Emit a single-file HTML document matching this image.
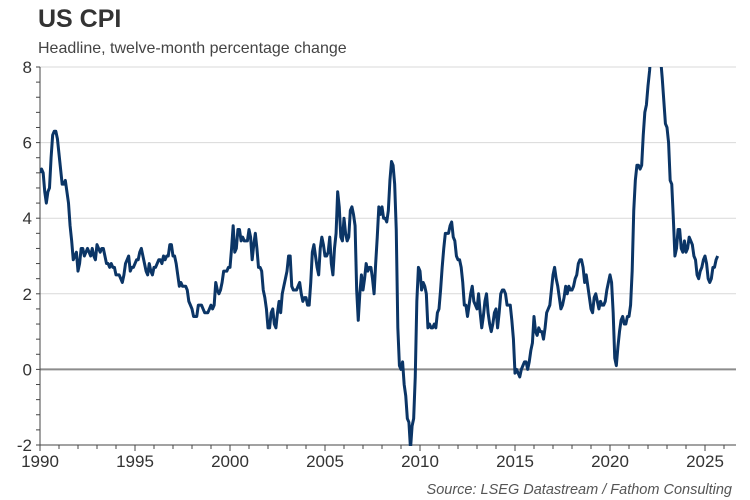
<!DOCTYPE html>
<html><head><meta charset="utf-8"><style>
body{margin:0;background:#fff;}
svg{display:block;font-family:"Liberation Sans",Arial,sans-serif;}
</style></head><body>
<svg id="chart" width="750" height="500">
<text x="38" y="27" font-size="25" font-weight="bold" fill="#333">US CPI</text>
<text x="38" y="53" font-size="16" fill="#444">Headline, twelve-month percentage change</text>
<text x="732" y="494" font-size="14.5" font-style="italic" fill="#555" text-anchor="end">Source: LSEG Datastream / Fathom Consulting</text>
<g id="grid"></g><g id="axes"></g>
<defs><clipPath id="clip"><rect x="40" y="67" width="696" height="379"/></clipPath></defs>
<g id="series" clip-path="url(#clip)"></g>
</svg>
<script>
const startYear = 1990;
const cpi1990 = [5.2,5.3,5.2,4.7,4.4,4.7,4.8,5.6,6.2,6.3,6.3,6.1];
const cpi1991 = [5.7,5.3,4.9,4.9,5.0,4.7,4.4,3.8,3.4,2.9,3.0,3.1];
const cpi1992 = [2.6,2.8,3.2,3.2,3.0,3.1,3.2,3.1,3.0,3.2,3.0,2.9];
const cpi1993 = [3.3,3.2,3.1,3.2,3.2,3.0,2.8,2.8,2.7,2.8,2.7,2.7];
const cpi1994 = [2.5,2.5,2.5,2.4,2.3,2.5,2.8,2.9,3.0,2.6,2.7,2.7];
const cpi1995 = [2.8,2.9,2.9,3.1,3.2,3.0,2.8,2.6,2.5,2.8,2.6,2.5];
const cpi1996 = [2.7,2.7,2.8,2.9,2.9,2.8,3.0,2.9,3.0,3.0,3.3,3.3];
const cpi1997 = [3.0,3.0,2.8,2.5,2.2,2.3,2.2,2.2,2.2,2.1,1.8,1.7];
const cpi1998 = [1.6,1.4,1.4,1.4,1.7,1.7,1.7,1.6,1.5,1.5,1.5,1.6];
const cpi1999 = [1.7,1.6,1.7,2.3,2.1,2.0,2.1,2.3,2.6,2.6,2.6,2.7];
const cpi2000 = [2.7,3.2,3.8,3.1,3.2,3.7,3.7,3.4,3.5,3.4,3.4,3.4];
const cpi2001 = [3.7,3.5,2.9,3.3,3.6,3.2,2.7,2.7,2.6,2.1,1.9,1.6];
const cpi2002 = [1.1,1.1,1.5,1.6,1.2,1.1,1.5,1.8,1.5,2.0,2.2,2.4];
const cpi2003 = [2.6,3.0,3.0,2.2,2.1,2.1,2.1,2.2,2.3,2.0,1.8,1.9];
const cpi2004 = [1.9,1.7,1.7,2.3,3.1,3.3,3.0,2.7,2.5,3.2,3.5,3.3];
const cpi2005 = [3.0,3.0,3.1,3.5,2.8,2.5,3.2,3.6,4.7,4.3,3.5,3.4];
const cpi2006 = [4.0,3.6,3.4,3.5,4.2,4.3,4.1,3.8,2.1,1.3,2.0,2.5];
const cpi2007 = [2.1,2.4,2.8,2.6,2.7,2.7,2.4,2.0,2.8,3.5,4.3,4.1];
const cpi2008 = [4.3,4.0,4.0,3.9,4.2,5.0,5.5,5.4,4.9,3.7,1.1,0.1];
const cpi2009 = [0.0,0.2,-0.4,-0.7,-1.3,-1.4,-2.1,-1.5,-1.3,-0.2,1.8,2.7];
const cpi2010 = [2.6,2.1,2.3,2.2,2.0,1.1,1.2,1.1,1.1,1.2,1.1,1.5];
const cpi2011 = [1.6,2.1,2.7,3.2,3.6,3.6,3.6,3.8,3.9,3.5,3.4,3.0];
const cpi2012 = [2.9,2.9,2.7,2.3,1.7,1.7,1.4,1.7,2.0,2.2,1.8,1.7];
const cpi2013 = [1.6,2.0,1.5,1.1,1.4,1.8,2.0,1.5,1.2,1.0,1.2,1.5];
const cpi2014 = [1.6,1.1,1.5,2.0,2.1,2.1,2.0,1.7,1.7,1.7,1.3,0.8];
const cpi2015 = [-0.1,0.0,-0.1,-0.2,0.0,0.1,0.2,0.2,0.0,0.2,0.5,0.7];
const cpi2016 = [1.4,1.0,0.9,1.1,1.0,1.0,0.8,1.1,1.5,1.6,1.7,2.1];
const cpi2017 = [2.5,2.7,2.4,2.2,1.9,1.6,1.7,1.9,2.2,2.0,2.2,2.1];
const cpi2018 = [2.1,2.2,2.4,2.5,2.8,2.9,2.9,2.7,2.3,2.5,2.2,1.9];
const cpi2019 = [1.6,1.5,1.9,2.0,1.8,1.6,1.8,1.7,1.7,1.8,2.1,2.3];
const cpi2020 = [2.5,2.3,1.5,0.3,0.1,0.6,1.0,1.3,1.4,1.2,1.2,1.4];
const cpi2021 = [1.4,1.7,2.6,4.2,5.0,5.4,5.4,5.3,5.4,6.2,6.8,7.0];
const cpi2022 = [7.5,7.9,8.5,8.3,8.6,9.1,8.5,8.3,8.2,7.7,7.1,6.5];
const cpi2023 = [6.4,6.0,5.0,4.9,4.0,3.0,3.2,3.7,3.7,3.2,3.1,3.4];
const cpi2024 = [3.1,3.2,3.5,3.4,3.3,3.0,2.9,2.5,2.4,2.6,2.7,2.9];
const cpi2025 = [3.0,2.8,2.4,2.3,2.4,2.7,2.7,2.9,3.0];
const yTicks = [-2,0,2,4,6,8];
const xTickLabels = [1990,1995,2000,2005,2010,2015,2020,2025];

const cpiValues = [].concat(cpi1990,cpi1991,cpi1992,cpi1993,cpi1994,cpi1995,cpi1996,cpi1997,cpi1998,cpi1999,cpi2000,cpi2001,cpi2002,cpi2003,cpi2004,cpi2005,cpi2006,cpi2007,cpi2008,cpi2009,cpi2010,cpi2011,cpi2012,cpi2013,cpi2014,cpi2015,cpi2016,cpi2017,cpi2018,cpi2019,cpi2020,cpi2021,cpi2022,cpi2023,cpi2024,cpi2025);

const X0=40, PX_PER_YEAR=19.0, Y_TOP=67, Y_BOT=445, YMIN=-2, YMAX=8, X_END=736;
function xScale(t){return X0+(t-1990)*PX_PER_YEAR;}
function yScale(v){return Y_BOT-(v-YMIN)/(YMAX-YMIN)*(Y_BOT-Y_TOP);}
const NS="http://www.w3.org/2000/svg";
function mk(tag,attrs,parent){const e=document.createElementNS(NS,tag);for(const k in attrs)e.setAttribute(k,attrs[k]);parent.appendChild(e);return e;}
const grid=document.getElementById('grid'), axes=document.getElementById('axes'), series=document.getElementById('series');

yTicks.forEach(v=>{
  const y=yScale(v);
  if(v>YMIN){
    const l=mk('line',{x1:X0,x2:X_END,y1:y,y2:y,stroke:v===0?'#8c8c8c':'#d9d9d9','stroke-width':v===0?2:1},grid);
    
    
  }
  const t=mk('text',{x:X0-8,y:y+6,'font-size':17,fill:'#333','text-anchor':'end'},axes);
  t.textContent=v;
  
  
});
for(let v=YMIN;v<=YMAX+0.001;v+=0.4){
  const y=yScale(v);
  const tk=mk('line',{x1:X0-4,x2:X0,y1:y,y2:y,stroke:'#444','stroke-width':1},axes);
  
  
}
const ya=mk('line',{x1:X0,x2:X0,y1:Y_TOP,y2:Y_BOT,stroke:'#444','stroke-width':1},axes);


const xa=mk('line',{x1:X0,x2:X_END,y1:Y_BOT,y2:Y_BOT,stroke:'#444','stroke-width':1},axes);


for(let yr=1990;yr<=2026;yr++){
  const x=xScale(yr);
  const major=yr%5===0;
  const tk=mk('line',{x1:x,x2:x,y1:Y_BOT,y2:Y_BOT+(major?6:4),stroke:'#444','stroke-width':1},axes);
  
  
}
xTickLabels.forEach(yr=>{
  const t=mk('text',{x:xScale(yr),y:Y_BOT+22,'font-size':17,fill:'#333','text-anchor':'middle'},axes);
  t.textContent=yr;
  
  
});
const pts=cpiValues.map((v,i)=>xScale(startYear+i/12).toFixed(2)+','+yScale(v).toFixed(2));
const line=mk('polyline',{points:pts.join(' '),fill:'none',stroke:'#0b3566','stroke-width':3,'stroke-linejoin':'round'},series);


</script>
</body></html>
